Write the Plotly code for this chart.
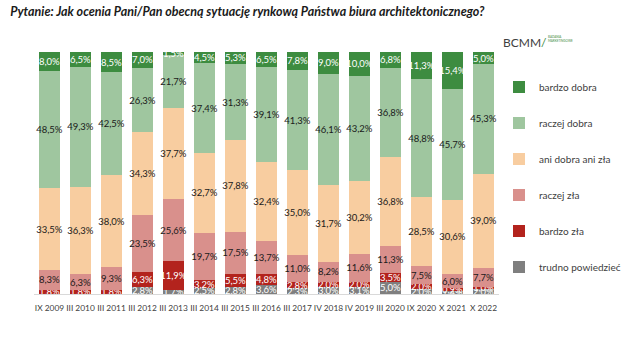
import plotly.graph_objects as go

categories = ["IX 2009", "III 2010", "III 2011", "III 2012", "III 2013", "III 2014", "III 2015",
              "III 2016", "III 2017", "IV 2018", "IV 2019", "III 2020", "IX 2020", "X 2021", "X 2022"]

trudno_powiedziec = [None, None, None, 2.8, 1.7, 2.5, 2.8, 3.6, 2.3, 3.0, 3.1, 5.0, 2.0, 1.4, 2.0]
bardzo_zla = [1.8, 1.8, 1.8, 6.3, 11.9, 3.2, 5.5, 4.8, 2.8, 2.0, 2.0, 3.5, 2.0, 0.9, 1.0]
raczej_zla = [8.3, 6.3, 9.3, 23.5, 25.6, 19.7, 17.5, 13.7, 11.0, 8.2, 11.6, 11.3, 7.5, 6.0, 7.7]
ani_dobra_ani_zla = [33.5, 36.3, 38.0, 34.3, 37.7, 32.7, 37.8, 32.4, 35.0, 31.7, 30.2, 36.8, 28.5, 30.6, 39.0]
raczej_dobra = [48.5, 49.3, 42.5, 26.3, 21.7, 37.4, 31.3, 39.1, 41.3, 46.1, 43.2, 36.8, 48.8, 45.7, 45.3]
bardzo_dobra = [8.0, 6.5, 8.5, 7.0, 1.5, 4.5, 5.3, 6.5, 7.8, 9.0, 10.0, 6.8, 11.3, 15.4, 5.0]

series = [
    ("trudno powiedzieć", trudno_powiedziec, "#7f7f7f", "white"),
    ("bardzo zła", bardzo_zla, "#b3231d", "white"),
    ("raczej zła", raczej_zla, "#d9908c", "#1a1a1a"),
    ("ani dobra ani zła", ani_dobra_ani_zla, "#f8cda0", "#1a1a1a"),
    ("raczej dobra", raczej_dobra, "#9fc69f", "#1a1a1a"),
    ("bardzo dobra", bardzo_dobra, "#3d8c40", "white"),
]

FONT = "Lato"

def fmt(v):
    if v is None:
        return ""
    return f"{v:.1f}%".replace(".", ",")

fig = go.Figure()
n = len(series)
for i, (name, vals, color, tcolor) in enumerate(series):
    fig.add_trace(go.Bar(
        x=categories, y=vals, name=name, legendgroup=f"g{i}", legendrank=n - i,
        marker=dict(color=color, line=dict(width=0)),
        text=[fmt(v) for v in vals], textposition="inside", textangle=0,
        insidetextanchor="middle", constraintext="none",
        textfont=dict(family=FONT, size=9.5, color=tcolor),
        hoverinfo="skip",
    ))

fig.update_layout(
    barmode="stack", bargap=0.35,
    width=638, height=342,
    margin=dict(l=34, r=96, t=52, b=48),
    paper_bgcolor="white", plot_bgcolor="white",
    font=dict(family=FONT, color="#404040"),
    showlegend=True,
    legend=dict(
        x=1.0, xanchor="left", y=0.915, yanchor="top",
        traceorder="grouped", tracegroupgap=17,
        font=dict(family=FONT, size=10, color="#404040"),
        itemwidth=30, bgcolor="rgba(0,0,0,0)",
    ),
    xaxis=dict(
        showgrid=False, showline=True, linecolor="#d9d9d9", linewidth=1,
        ticks="", tickangle=0, ticklabelstandoff=6,
        tickfont=dict(family=FONT, size=8.4, color="#404040"),
    ),
    yaxis=dict(range=[0, 100], visible=False),
    title=dict(
        text="<b><i>Pytanie: Jak ocenia Pani/Pan obecną sytuację rynkową Państwa biura architektonicznego?</i></b>",
        x=0.016, xanchor="left", y=0.965, yanchor="middle",
        font=dict(family=FONT, size=12.5, color="#1a1a1a"),
    ),
)

fig.add_annotation(
    xref="paper", yref="paper", x=1.005, y=1.04, xanchor="left", yanchor="middle",
    text="BCMM<span style='color:#3d8c40'>/</span>", showarrow=False,
    font=dict(family=FONT, size=12, color="#404040"),
)
fig.add_annotation(
    xref="paper", yref="paper", x=1.1, y=1.055, xanchor="left", yanchor="middle",
    text="BADANIA<br>MARKETINGOWE", showarrow=False, align="left",
    font=dict(family=FONT, size=3, color="#3d8c40"),
)

fig.write_html("out.html")
